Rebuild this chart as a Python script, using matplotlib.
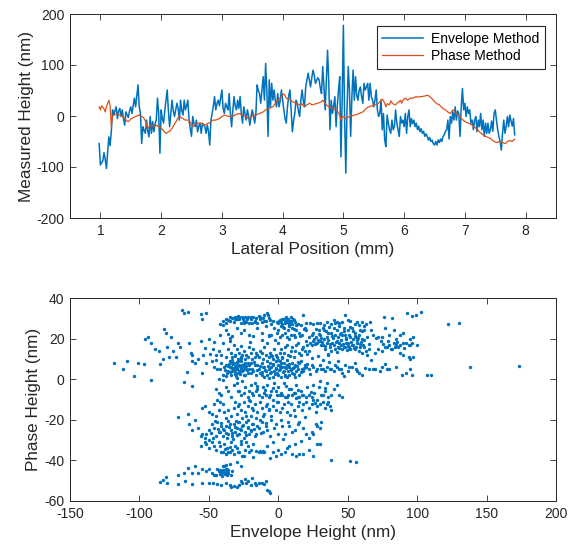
import numpy as np
import matplotlib
matplotlib.use("Agg")
import matplotlib.pyplot as plt

plt.rcParams['font.family'] = ['Liberation Sans', 'DejaVu Sans']
plt.rcParams['axes.unicode_minus'] = False

# ---------------- top panel data (lateral position grid: start + step) ----------------
x_start = 0.98
x_step = 0.02

envelope_nm = [
    -54, -96, -92, -88, -72, -85, -103, -70, -41, -58,
    -30, 12, 2, 10, 18, -5, 10, 15, -1, 12,
    -5, -18, 8, 2, -3, 10, 18, 5, 20, 35,
    18, 40, 61, 18, 5, -54, -21, -28, -34, -8,
    -30, -41, -1, -34, -11, -31, -15, -8, 35, 5,
    -73, 12, -5, -14, 10, 30, 51, 10, -21, 5,
    31, 10, -1, 12, 25, 15, -8, 31, 10, 2,
    31, 12, 20, 31, -8, -25, -40, -1, -15, -21,
    -8, -31, -20, -14, -34, -14, -18, -21, -34, -18,
    -30, -57, -8, 5, 20, 38, 12, 25, 31, 20,
    35, 51, 15, 5, 25, 18, 12, 44, 5, -21,
    10, 38, 20, 12, 31, 15, 38, 5, -14, 18,
    5, -8, 12, 0, -18, -1, 12, 0, -14, 5,
    61, 50, 44, 25, 50, 77, 31, 103, 51, -40,
    71, 18, 64, 31, 51, 30, 18, 44, 18, 30,
    51, 31, 12, -5, -14, 18, 40, 51, 12, -31,
    -10, 5, 31, 25, 10, -1, 31, 51, 30, 18,
    57, 70, 84, 70, 57, 75, 90, 80, 64, 70,
    75, 71, 55, 44, 97, 57, 12, 71, 129, 64,
    -27, 31, 5, 20, 38, -21, 20, 51, 77, -80,
    31, 178, -1, -112, 12, 97, 51, -40, 38, 90,
    31, 77, 40, 31, 51, 57, 38, 25, 64, 51,
    57, 64, 31, 64, 38, 31, 18, 31, 51, 12,
    -1, 5, 31, -27, 5, -47, -60, 2, -14, -27,
    -34, -8, -27, -21, 12, -14, -27, -40, -1, -14,
    -8, -21, 5, -34, -1, 12, -21, -5, -15, -8,
    -21, -14, -27, -20, -31, -25, -34, -30, -40, -35,
    -40, -47, -42, -50, -47, -54, -57, -50, -57, -47,
    -52, -45, -50, -40, -37, -30, -27, -8, -45, -1,
    -14, 8, -8, 18, -8, 10, 5, -40, 18, 54,
    12, 25, -1, 18, 5, 12, -14, -8, -27, -8,
    -1, -31, -8, -21, 5, -27, -8, -40, -14, -34,
    -14, -34, -27, -10, -30, 5, 12, -8, -27, -40,
    -50, -67, -34, -8, -34, -20, -1, -21, 2, -10,
    -20, -5, -37,
]

phase_nm = [
    18, 12, 20, 17, 14, 8, 18, 25, 31, 20,
    -21, -1, 2, 3, 4, 5, 3, 2, 1, -1,
    -3, -5, -8, -10, -11, -9, -6, -5, -3, -2,
    -1, 0, 1, 2, 0, -1, -2, -5, -10, -18,
    -24, -22, -19, -18, -20, -21, -20, -18, -19, -21,
    -22, -24, -26, -29, -32, -34, -33, -31, -30, -27,
    -24, -20, -16, -12, -8, -3, -1, -2, -4, -5,
    -7, -8, -8, -8, -9, -12, -17, -21, -19, -17,
    -15, -14, -14, -14, -14, -15, -16, -18, -17, -15,
    -14, -13, -11, -9, -8, -8, -8, -7, -6, -5,
    -3, -1, 0, 2, 1, 0, 0, -1, -1, 0,
    -1, 1, 2, 3, 4, 5, 4, 3, 2, 1,
    0, -1, -3, -5, -4, -2, 0, 2, 2, 2,
    3, 4, 5, 6, 7, 8, 10, 12, 13, 14,
    15, 16, 17, 18, 21, 25, 28, 30, 33, 35,
    38, 41, 43, 40, 35, 34, 33, 33, 30, 28,
    27, 26, 25, 24, 23, 22, 22, 24, 20, 18,
    20, 22, 23, 25, 24, 22, 22, 23, 24, 24,
    25, 26, 27, 28, 31, 28, 25, 22, 20, 18,
    17, 16, 15, 14, 13, 12, 10, 6, 2, -8,
    -3, -1, -3, -5, -4, -2, -1, 0, 0, 1,
    2, 2, 3, 4, 5, 6, 7, 8, 10, 13,
    15, 17, 18, 19, 20, 20, 21, 22, 22, 24,
    25, 28, 31, 33, 30, 25, 18, 24, 23, 22,
    30, 26, 24, 22, 22, 25, 27, 28, 31, 25,
    31, 33, 35, 33, 31, 33, 35, 35, 35, 36,
    37, 38, 37, 37, 38, 38, 38, 39, 39, 40,
    41, 40, 38, 36, 34, 31, 28, 26, 24, 23,
    22, 19, 17, 15, 13, 12, 10, 8, 6, 5,
    8, 12, 10, 7, 5, 3, 1, -1, -4, -7,
    -9, -11, -12, -13, -14, -15, -17, -18, -20, -22,
    -24, -26, -28, -31, -33, -35, -37, -39, -40, -41,
    -42, -43, -44, -46, -48, -50, -51, -52, -52, -50,
    -50, -51, -52, -53, -54, -53, -50, -49, -48, -49,
    -50, -47, -46,
]

# ---------------- bottom panel data: (envelope, phase) pairs by region ----------------
band_a = [(-69,34),(-68,32.5),(-65,33),(-56,32),(-52,32.5),(-55,29.5),
    (-42,27),(-40,28.5),(-38,27.5),(-36,29),(-35,30.5),(-33,30),(-32,28),(-31,30.5),(-30,29.5),(-29,31),(-28,30.5),
    (-27,27.5),(-26,30.5),(-25,27.5),(-24,30.5),(-23,28),(-22,30.5),(-21,27.5),(-20,30.5),(-19,27.5),(-18,30.5),
    (-17,28),(-16,30),(-15,27.5),(-14,31),(-13,30.5),(-12,28),(-11,30),(-10,31.5),(-9,28.5),(-8,32.5),(-7,30),
    (-6,29),(-5,27),(-4,28.5),(-1,28),(0,27.5),(1,29),(2,28),(3,27),(4,29.5),(5,28.5),(6,28),(7,29.5),(8,27.5),
    (9,28.5),(10,27),(11,29),(12,28),(14,27),(16,26.5),(18,31.5),(20,27.5),(23,27.5),(25,27),(28,27.5),(30,27.5),
    (33,26.5),(35,28),(38,27),(40,29),(42,28),(44,27.5),(46,28),(48,31.5),(50,29),(52,28.5),(55,27),(57,28),
    (60,28),(63,27),(66,28),(76,30.5),(82,30),(93,32.5),(96,31),(99,31.5),(103,33),(122,27),(130,27.5),(58,26.5),(62,26)]
band_b = [(-82,24.5),(-81,23),(-94,21),(-96,20),(-77,21),
    (-42,22),(-40,26.5),(-38,24),(-36,22.5),(-35,20.5),(-33,21.5),
    (-30,25),(-27,23),(-25,24),(-21,22),(-18,21.5),(-15,25),(-12,23),(-9,26),(-7,22),
    (-5,22),(-3,25),(-1,23),(0,24),(1,21),(2,26),(3,22),(4,25),(5,23),(6,21),(7,24),(8,26),(9,22),(10,25),
    (11,22),(12,21),(13,24),(15,23),(17,22),(19,25),(20,24),(22,21),(24,22),(25,23),(27,21),(29,24),(30,22),
    (32,25),(33,24),(35,21),(36,23),(38,23),(40,25),(41,22),(42,24),(43,21),(44,26),(45,23),(46,22),(47,25),
    (48,22),(49,20),(50,24),(51,22),(52,21),(53,25),(54,20),(55,23),(56,21),(58,22),(59,24),(60,20),(62,24),
    (64,21),(68,22),(72,21),(75,21),(80,22),(83,24),(85,20),(88,22),(90,23),(95,20),(97,21),(77,25),(67,24)]
band_c = [(-92,18),(-89,15),(-86,14),(-80,16),(-76,14),(-74,11),(-72,18),(-71,16),(-64,18),(-63,13),(-62,12),
    (-58,10),(-56,19),(-54,12),(-50,20),(-47,15),(-45,12),(-43,14),(-41,12),(-40,18),(-38,11),(-36,15),(-83,10),(-79,11),
    (-35,19),(-34,13),(-33,11),(-32,17),(-31,12),(-30,15),(-29,10),(-28,13),(-27,11),(-26,12),(-25,14),(-24,10),
    (-23,12),(-22,11),(-21,16),(-20,13),(-19,10),(-18,15),(-17,11),(-16,13),(-15,12),(-14,11),(-13,14),(-12,13),
    (-11,10),(-10,16),(-9,12),(-8,18),(-7,11),(-6,13),(-5,12),(-4,10),(-3,15),(-2,12),(-1,11),
    (0,18),(1,13),(2,15),(3,11),(4,13),(5,16),(6,17),(7,12),(8,20),(9,14),(10,16),(11,11),(12,14),(13,17),(14,18),
    (15,13),(16,12),(17,15),(18,16),(19,14),(20,19),(21,17),(22,14),(23,18),(24,17),(25,19),(26,20),(27,18),(28,18),
    (29,19),(30,19),(31,17),(32,17),(33,20),(34,15),(35,18),(36,12),(37,16),(38,14),(39,18),
    (40,17),(41,15),(42,19),(43,16),(44,18),(45,17),(46,15),(47,16),(48,16),(49,18),(50,18),(51,16),(52,15),(53,17),
    (54,17),(55,15),(56,16),(57,18),(58,14),(59,16),(60,13),(61,17),(62,16),(63,14),(64,12),(65,15),
    (70,13),(72,15),(75,14),(77,16),(78,16),(80,17),(81,15),(82,15),(84,16),(85,17),(86,16),(88,17),(90,18),(92,18),
    (94,17),(95,17),(96,18),(100,17),(90,12),(95,10),(94,11),(97,11),(88,13),(74,19),(79,19),(83,18)]
band_d = [(-118,8),(-112,5),(-109,9),(-104,1.5),(-101,8),(-97,7.5),(-92,-0.5),(-85,7.5),(-68,-1.5),(-66,3.5),
    (-62,9),(-60,8),(-55,3),(-52,8),(-48,9),(-46,6),
    (-44,5),(-43,0),(-42,5),(-41,8),(-40,2),(-40,-0.5),(-39,6),(-38,7),(-37,3),(-36,4),(-35,9),(-35,6),(-34,6),
    (-34,2),(-33,8),(-33,4),(-32,8),(-32,5),(-31,6),(-31,3),(-30,5),(-30,7),(-29,3),(-29,9),(-28,7),(-28,4),(-27,9),
    (-27,5),(-26,4),(-26,7),(-25,6),(-25,2),(-24,2),(-24,8),(-23,5),(-22,8),(-22,3),(-21,5),(-21,7),(-20,3),(-20,8),
    (-19,5),(-18,4),(-17,7),(-16,2),(-15,7),(-14,5),(-13,3),(-12,2),(-12,8),(-11,6),(-10,6),(-10,1),(-9,4),(-8,9),
    (-8,2),(-7,5),(-6,3),(-6,8),(-5,6),(-4,7),(-4,1),(-3,4),(-2,5),(-2,9),(-1,3),(0,2),(0,7),(1,5),(1,9),(2,8),(2,1),
    (3,6),(4,4),(4,8),(5,2),(5,6),(6,1),(6,7),(7,4),(8,6),(8,2),(9,5),(10,3),(10,8),(11,6),(12,7),(12,1),(13,4),
    (14,5),(15,2),(15,8),(16,9),(17,5),(18,4),(19,7),(20,6),
    (22,5),(24,7),(25,6),(27,4),(28,5),(30,7),(31,5),(32,5),(34,4),(35,6),(37,5),(38,5),(40,4),(41,7),(42,6),(44,5),
    (45,5),(46,3),(48,7),(50,4),(51,6),(53,6),(55,8),(56,5),(58,3),(60,2),(57,4),(43,9),
    (65,5),(68,5),(70,5),(75,6),(78,5),(80,5),(89,2),(92,3),(96,2),(95,5),(107,2),(110,2),(138,6),(173,6.5),(73,4),(85,6)]
band_e = [(-62,-3.5),(-45,-5),(-43,-7),(-41,-8),(-38,-4),(-36,-6),(-34,-9),(-32,-3),
    (-30,-2),(-29,-6),(-28,-6),(-27,-8),(-25,-7),(-24,-4),(-22,-9),(-21,-6),(-20,-3),(-19,-7),(-18,-8),(-16,-6),
    (-15,-5),(-14,-8),(-12,-9),(-11,-4),(-10,-7),(-9,-8),(-8,-3),(-7,-9),(-6,-8),(-5,-6),(-4,-10),(-3,-2),(-2,-6),
    (-1,-8),(0,-4),(1,-8),(2,-7),(3,-8),(4,-2),(5,-9),(6,-9),(7,-8),(8,-5),(9,-5),(10,-8),(11,-7),(12,-7),(13,-3),
    (14,-9),(15,-9),(16,-6),(17,-8),(18,-8),(20,-9),(21,-4),(22,-8),(24,-9),(26,-7),(28,-10),(29,-4),(31,-8),(32,-8),
    (34,-6),(36,-9),(38,-8),(40,-5),(42,-3),(44,-8),(46,-9),(30,-1),(25,-3),(35,-2),(-26,-1),(-17,-2)]
band_f = [(-55,-14),(-53,-13),(-50,-16),(-48,-17),(-46,-12),(-45,-18),(-43,-15),(-42,-11),(-40,-12),(-39,-16),
    (-38,-19),(-44,-10),(-36,-15),(-34,-18),(-32,-14),(-31,-11),(-30,-17),(-29,-13),(-28,-12),(-27,-15),(-26,-19),
    (-25,-11),(-24,-16),(-23,-18),(-22,-13),(-21,-10),(-20,-18),(-19,-14),(-18,-15),(-17,-12),(-16,-19),(-15,-16),
    (-13,-11),(-12,-14),(-11,-18),(-10,-17),(-9,-13),(-8,-12),(-7,-15),(-5,-18),(-4,-13),(-2,-15),(-1,-11),(0,-11),
    (1,-16),(3,-14),(4,-12),(6,-16),(7,-11),(9,-12),(11,-15),(12,-18),(14,-13),(15,-11),
    (17,-15),(18,-12),(20,-11),(22,-14),(24,-12),(25,-10),(27,-16),(28,-13),(30,-12),(32,-11),(34,-14),(35,-12),
    (36,-11),(37,-13),(38,-15),(-72,-18.5),(-65,-17)]
band_g = [(-64,-22),(-62,-25),(-60,-20),(-58,-24),(-56,-28),(-55,-27),(-53,-29),(-52,-27),(-50,-25),(-48,-22),
    (-46,-24),(-45,-28),(-44,-21),(-43,-26),(-42,-26),(-41,-23),(-40,-28),(-39,-25),(-38,-23),(-37,-29),(-36,-27),
    (-35,-22),(-34,-25),(-33,-28),(-32,-22),(-31,-26),(-30,-24),(-29,-21),(-28,-21),(-28,-27),(-27,-25),(-26,-23),
    (-25,-29),(-24,-26),(-23,-21),(-22,-20),(-22,-24),(-21,-27),(-20,-25),(-19,-22),(-18,-22),(-17,-28),(-16,-27),
    (-15,-23),(-14,-24),(-13,-20),(-12,-21),(-11,-26),
    (-9,-23),(-8,-25),(-6,-28),(-5,-20),(-3,-24),(-2,-22),(0,-27),(2,-20),(3,-23),(5,-27),(7,-21),(8,-23),(10,-26),
    (12,-25),(14,-22),(15,-21),(18,-24),(20,-27),(22,-29),(24,-26),(25,-27),(27,-22),(28,-23),(30,-24),(31,-21),
    (-50,-30),(-47,-29)]
band_h = [(-56,-33),(-53,-31),(-52,-32),(-50,-34),(-48,-31),(-46,-33),(-45,-35),(-43,-31),(-42,-33),(-41,-36),
    (-40,-36),(-39,-32),(-38,-37),(-37,-34),(-36,-36),(-35,-36),(-34,-31),(-33,-35),(-32,-37),(-31,-33),(-30,-34),
    (-29,-36),(-28,-36),(-27,-32),(-26,-38),(-25,-38),(-24,-35),(-23,-31),(-22,-33),(-21,-36),(-20,-35),(-18,-32),
    (-16,-35.5),(-14,-36),(-13,-35.5),(-12,-36),(-11,-35.5),(-10,-36),(-8,-33),(-6,-39),(-4,-31),(-2,-38),(0,-35),
    (2,-37),(5,-36),(8,-33),(10,-37),(12,-32),(13,-38),(15,-37),(18,-37),(22,-35),(25,-38),(28,-32),(30,-32),
    (38,-40),(52,-40.5),(56,-41),(-4,-36),(6,-34)]
band_i = [(-65,-43.5),(-62,-46),(-60,-43),(-58,-46),(-55,-44),(-52,-45),(-50,-44),(-48,-46),(-46,-47),(-45,-47),
    (-44,-44),(-43,-45),(-42,-44.5),(-42,-46.5),(-41,-46),(-40,-45),(-40,-43),(-39,-43),(-39,-46),(-38,-45.5),
    (-38,-44),(-37,-44),(-37,-47),(-36,-46),(-35,-42),(-34,-47),(-33,-45),(-72,-47),(-68,-46),(-30,-41),(-27,-43)]
band_j = [(-85,-50.5),(-83,-49.5),(-81,-48),(-80,-51),(-72,-51.5),(-67,-50),(-62,-51.5),(-55,-51),(-50,-51),
    (-47,-51),(-44,-51.5),(-41,-52),(-38,-51),(-35,-52),(-32,-52.5),(-30,-53),(-28,-52),(-26,-51),(-24,-49),
    (-22,-50),(-20,-52),(-19,-48.5),(-17,-51),(-16,-52),(-14,-51),(-12,-51),(-10,-51.5),(-9,-50),(-8,-54.5),
    (-7,-55),(-6,-56),(-23,-51),(-27,-50),(-34,-53)]
band_k = [(-33.5,5.5),(-31.5,4.5),(-30.5,6.5),(-29.5,5.5),(-28.5,3.5),(-27.5,6.5),(-26.5,5.5),(-32.5,7.5),
    (-31.5,2.5),(-29.5,8.5),(-34.5,3.5),(-36.5,6.5),(-25.5,4.5),(-23.5,6.5),(-28.5,9.5),(-30.5,1.5),(-33.5,9.5),
    (-37.5,1.5),(-27.5,2.5),(-24.5,7.5),(-22.5,4.5),(-35.5,7.5),(-38.5,4.5),(-26.5,10.5),(-31.5,11.5),(-29.5,0.5),
    (-9.5,4.5),(-7.5,6.5),(-5.5,3.5),(-3.5,7.5),(-1.5,5.5),(0.5,4.5),(1.5,6.5),(3.5,3.5),(5.5,5.5),(7.5,7.5),
    (9.5,4.5),(11.5,2.5),(13.5,6.5),(-11.5,3.5),(-13.5,6.5),(-15.5,4.5),(-17.5,8.5),(-0.5,9.5),(2.5,10.5),(6.5,9.5),
    (8.5,11.5),(-4.5,11.5),(4.5,1.5),(-6.5,0.5),(10.5,5.5),(14.5,8.5),(16.5,3.5),(18.5,5.5),(20.5,7.5),(-2.5,2.5),
    (26.5,17.5),(28.5,19.5),(30.5,20.5),(31.5,18.5),(33.5,16.5),(35.5,19.5),(37.5,17.5),(39.5,20.5),(41.5,18.5),
    (43.5,15.5),(45.5,19.5),(46.5,17.5),(48.5,20.5),(50.5,16.5),(52.5,18.5),(54.5,15.5),(56.5,19.5),(58.5,17.5),
    (44.5,22.5),(47.5,23.5),(51.5,25.5),(53.5,23.5),(55.5,21.5),(57.5,20.5),(29.5,22.5),(34.5,23.5),(38.5,21.5),
    (42.5,13.5),(49.5,14.5),(59.5,18.5),(61.5,19.5),(36.5,25.5),(40.5,27.5),(27.5,24.5),
    (-31.5,29.5),(-28.5,29.5),(-25.5,29.5),(-22.5,29.5),(-19.5,29.5),(-16.5,28.5),(-13.5,29.5),(-10.5,28.5),
    (-7.5,31.5),(-34.5,28.5),(-37.5,29.5),(-24.5,28.5),
    (0.5,28.5),(2.5,29.5),(4.5,27.5),(6.5,29.5),(8.5,28.5),(10.5,29.5),(12.5,26.5),(3.5,25.5),(7.5,26.5),
    (11.5,24.5),(5.5,30.5),(9.5,30.5),
    (-39.5,-24.5),(-37.5,-26.5),(-35.5,-23.5),(-33.5,-26.5),(-31.5,-23.5),(-29.5,-27.5),(-27.5,-24.5),(-25.5,-22.5),
    (-23.5,-27.5),(-21.5,-23.5),(-19.5,-25.5),(-17.5,-24.5),(-41.5,-21.5),(-43.5,-24.5),(-36.5,-20.5),(-32.5,-29.5),
    (-26.5,-30.5),(-30.5,-20.5),(-34.5,-33.5),(-38.5,-34.5),
    (-41.5,-45.5),(-39.5,-44.5),(-38.5,-46.5),(-36.5,-44.5),(-40.5,-47.5),(-37.5,-42.5),
    (-15.5,-3.5),(-9.5,-5.5),(-3.5,-4.5),(5.5,-3.5),(14.5,-5.5),(23.5,-6.5),(-20.5,-10.5),(-6.5,-14.5),(8.5,-17.5),
    (19.5,-18.5),(-12.5,-26.5),(3.5,-29.5),(16.5,-30.5),(-45.5,-20.5),(-48.5,-26.5),(-18.5,-38.5),(-8.5,-21.5),
    (12.5,-9.5),(33.5,-4.5),(26.5,-11.5),(65.5,17.5),(70.5,20.5),(75.5,17.5),(85.5,18.5),(90.5,15.5),(60.5,23.5),
    (66.5,9.5),(76.5,7.5),(62.5,5.5),(-49.5,12.5),(-46.5,18.5),(-52.5,15.5),(-44.5,9.5),(20.5,12.5),(24.5,10.5),
    (28.5,11.5),(32.5,9.5),(36.5,8.5),(22.5,2.5),(47.5,1.5),(35.5,12.5),(15.5,21.5),(18.5,24.5),(-2.5,19.5),
    (-6.5,21.5),(-11.5,19.5),(-20.5,18.5),(-26.5,16.5)]

top_xticks = [1, 2, 3, 4, 5, 6, 7, 8]
top_yticks = [-200, -100, 0, 100, 200]
bot_xticks = [-150, -100, -50, 0, 50, 100, 150, 200]
bot_yticks = [-60, -40, -20, 0, 20, 40]

# ---------------- drawing ----------------
BLUE = '#0072BD'
ORANGE = '#D95319'
AX = '#262626'

env = np.array(envelope_nm, dtype=float)
pha = np.array(phase_nm, dtype=float)
assert len(env) == len(pha)
pos = np.round(x_start + x_step * np.arange(len(env)), 3)

pts = np.array(band_a + band_b + band_c + band_d + band_e + band_f + band_g + band_h
               + band_i + band_j + band_k, dtype=float)

W, H = 569, 550
fig = plt.figure(figsize=(W / 100, H / 100), dpi=100)
ax1 = fig.add_axes([70 / W, 1 - 218 / H, 486 / W, 204 / H])
ax2 = fig.add_axes([70 / W, 1 - 501 / H, 486 / W, 203 / H])

ax1.plot(pos, env, color=BLUE, lw=1.1, label='Envelope Method')
ax1.plot(pos, pha, color=ORANGE, lw=0.9, label='Phase Method')
ax1.set_xlim(0.5, 8.5)
ax1.set_ylim(-200, 200)
ax1.set_xticks(top_xticks)
ax1.set_yticks(top_yticks)
ax1.set_xlabel('Lateral Position (mm)', fontsize=12.3, color=AX, labelpad=3)
ax1.set_ylabel('Measured Height (nm)', fontsize=12.3, color=AX, labelpad=2)
leg = ax1.legend(loc='upper right', bbox_to_anchor=(0.977, 0.941), borderaxespad=0,
                 fontsize=10, frameon=True, fancybox=False, framealpha=1,
                 edgecolor=AX, handlelength=2.9, borderpad=0.4, labelspacing=0.25,
                 handletextpad=0.6)
leg.get_frame().set_linewidth(0.8)

ax2.scatter(pts[:, 0], pts[:, 1], s=6, color=BLUE, linewidths=0)
ax2.set_xlim(-150, 200)
ax2.set_ylim(-60, 40)
ax2.set_xticks(bot_xticks)
ax2.set_yticks(bot_yticks)
ax2.set_xlabel('Envelope Height (nm)', fontsize=12.3, color=AX, labelpad=3)
ax2.set_ylabel('Phase Height (nm)', fontsize=12.3, color=AX, labelpad=2)

for ax in (ax1, ax2):
    for s in ax.spines.values():
        s.set_color(AX)
        s.set_linewidth(0.7)
    ax.tick_params(direction='in', top=True, right=True, length=4, width=0.6,
                   colors=AX, labelsize=10, pad=4)

fig.savefig('out.png', dpi=100)
